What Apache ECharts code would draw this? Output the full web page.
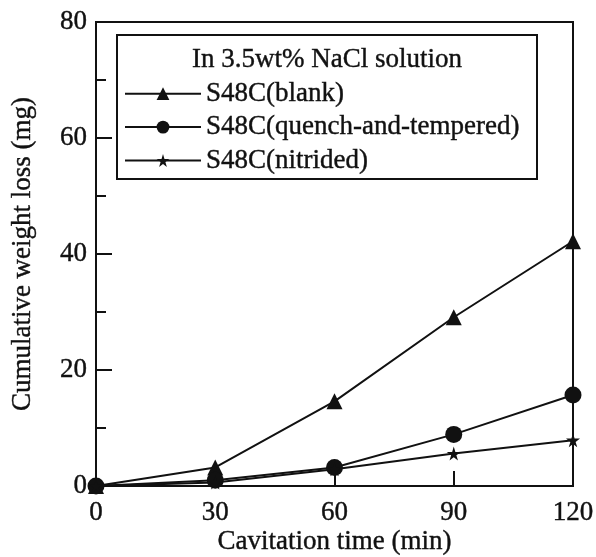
<!DOCTYPE html>
<html>
<head>
<meta charset="utf-8">
<script src="https://cdn.jsdelivr.net/npm/echarts@6/dist/echarts.min.js"></script>
<style>
  html, body { margin: 0; padding: 0; background: #fff; }
  #chart { width: 596px; height: 557px; }
</style>
</head>
<body>
<div id="chart"></div>
<script>
// Cavitation times (min)
const times = [0, 30, 60, 90, 120];
// Cumulative weight loss (mg) per specimen condition
const blank = [0, 3.2, 14.6, 29.1, 42.2];
const quenchTempered = [0, 1.0, 3.2, 8.9, 15.7];
const nitrided = [0, 0.6, 2.9, 5.6, 7.9];

const seriesNames = ['S48C(blank)', 'S48C(quench-and-tempered)', 'S48C(nitrided)'];
const legendTitle = 'In 3.5wt% NaCl solution';
const xName = 'Cavitation time (min)';
const yName = 'Cumulative weight loss (mg)';

const FONT = '"Liberation Serif", "DejaVu Serif", serif';
const INK = '#111';
const FS = 27;
// slightly heavier glyph strokes
const textInk = { fontFamily: FONT, fontSize: FS, color: INK, textBorderColor: INK, textBorderWidth: 0.4 };

const pairs = vals => times.map((t, i) => [t, vals[i]]);

const STAR = 'path://M50,0 L61,35 L98,35 L68,57 L79,91 L50,70 L21,91 L32,57 L2,35 L39,35 Z';
const TRI = 'path://M50,0 L100,90 L0,90 Z';

function lineSeries(name, vals, symbol, size) {
  return {
    name: name,
    type: 'line',
    data: pairs(vals),
    symbol: symbol,
    symbolSize: size,
    showSymbol: true,
    lineStyle: { color: INK, width: 2 },
    itemStyle: { color: INK },
    emphasis: { disabled: true },
    z: 3
  };
}

const chart = echarts.init(document.getElementById('chart'), null, { renderer: 'canvas' });

chart.setOption({
  animation: false,
  backgroundColor: '#fff',
  grid: {
    left: 96, top: 22, right: 23, bottom: 71,
    outerBoundsMode: 'none',
    containLabel: false,
    show: true, borderColor: INK, borderWidth: 2, backgroundColor: 'transparent'
  },
  xAxis: {
    type: 'value',
    min: 0, max: 120, interval: 30,
    name: xName,
    nameLocation: 'middle',
    nameGap: 42,
    nameMoveOverlap: false,
    nameTextStyle: textInk,
    axisLine: { show: true, lineStyle: { color: INK, width: 2 } },
    axisTick: { show: true, inside: true, length: 15, lineStyle: { color: INK, width: 2 } },
    axisLabel: Object.assign({ margin: 13 }, textInk),
    splitLine: { show: false }
  },
  yAxis: {
    type: 'value',
    min: 0, max: 80, interval: 20,
    name: yName,
    nameLocation: 'middle',
    nameGap: 60,
    nameMoveOverlap: false,
    nameTextStyle: textInk,
    axisLine: { show: true, lineStyle: { color: INK, width: 2 } },
    axisTick: { show: true, inside: true, length: 16, lineStyle: { color: INK, width: 2 } },
    minorTick: { show: true, splitNumber: 2, length: 10, lineStyle: { color: INK, width: 2 } },
    axisLabel: Object.assign({ margin: 9, padding: [6, 0, 0, 0] }, textInk),
    splitLine: { show: false },
    minorSplitLine: { show: false }
  },
  legend: {
    orient: 'vertical',
    left: 119,
    top: 75,
    itemWidth: 76,
    itemHeight: 16,
    itemGap: 6,
    textStyle: textInk,
    data: seriesNames,
    selectedMode: false
  },
  graphic: [
    {
      type: 'rect',
      shape: { x: 117, y: 35, width: 420, height: 144 },
      style: { fill: '#fff', stroke: INK, lineWidth: 2 },
      z: 1
    },
    {
      type: 'text',
      x: 327, y: 60,
      style: {
        text: legendTitle,
        fontFamily: FONT, fontSize: FS, fill: INK,
        stroke: INK, lineWidth: 0.4,
        align: 'center', verticalAlign: 'middle'
      },
      z: 2
    }
  ],
  series: [
    lineSeries(seriesNames[0], blank, TRI, 16),
    lineSeries(seriesNames[1], quenchTempered, 'circle', 17),
    lineSeries(seriesNames[2], nitrided, STAR, 14)
  ]
});
</script>
</body>
</html>
